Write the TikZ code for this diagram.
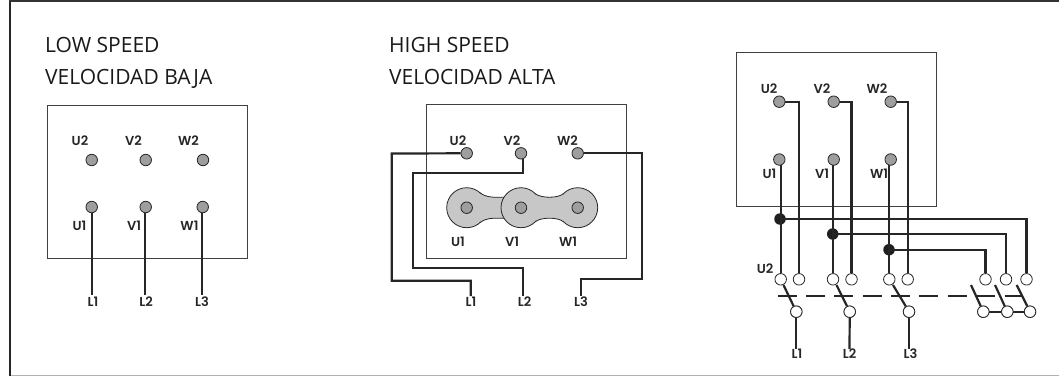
\documentclass[tikz,border=0pt]{standalone}
\usepackage{fontspec}
\setmainfont{Open Sans}
\newfontfamily\lblfont[Scale=1]{Poppins SemiBold}
\tikzset{
  x=1pt,y=-1pt,
  panel/.style={draw=black!75,line width=1pt},
  wire/.style={draw=black!85,line width=2.2pt,line join=miter},
  pin/.style={circle,draw=black!85,fill=black!38,line width=0.8pt,minimum size=11.5pt,inner sep=0pt},
  term/.style={circle,draw=black!85,fill=white,line width=0.8pt,minimum size=11.5pt,inner sep=0pt},
  junction/.style={circle,fill=black!88,minimum size=11.5pt,inner sep=0pt},
  lbl/.style={font=\lblfont\fontsize{13}{15}\selectfont,text=black!85,inner sep=0pt},
  title/.style={font=\fontsize{21}{24}\selectfont,text=black!90,inner sep=0pt,anchor=base west},
  blob/.style={draw=black!85,fill=black!22,line width=0.8pt},
  edgeline/.style={draw=black!85,line width=0.8pt},
}
\begin{document}
\begin{tikzpicture}
\useasboundingbox (0,0) rectangle (1059,376);
% outer frame
\draw[draw=black!85,line width=2.4pt] (10,376) -- (10,1);
\draw[draw=black!80,line width=2pt] (9,1) -- (1059,1);
\draw[draw=black!30,line width=1.2pt] (11,375.4) -- (1059,375.4);
% titles
\node[title] (ta) at (45,52) {LOW SPEED};
\node[title] (tb) at (45,84) {VELOCIDAD BAJA};
\node[title] (tc) at (389,52) {HIGH SPEED};
\node[title] (td) at (389,84) {VELOCIDAD ALTA};
% ---- panel A
\draw[panel] (47.5,105) rectangle (247.5,258);
\node[pin] (au2) at (91.7,160) {};
\node[pin] (av2) at (145.7,160) {};
\node[pin] (aw2) at (203,160) {};
\node[pin] (au1) at (91.7,207) {};
\node[pin] (av1) at (145.7,207) {};
\node[pin] (aw1) at (202.7,207) {};
\node[lbl] at (80,141) {U2};
\node[lbl] at (133.5,141) {V2};
\node[lbl] at (188.5,141) {W2};
\node[lbl] at (79.5,226) {U1};
\node[lbl] at (134,226) {V1};
\node[lbl] at (189.5,226) {W1};
\coordinate (al1) at (91.7,295);
\coordinate (al2) at (145,295);
\coordinate (al3) at (202,295);
\draw[wire] (au1.south) -- (al1);
\draw[wire] (145,212.7) -- (al2);
\draw[wire] (202,212.7) -- (al3);
\node[lbl] (l1a) at (93,302) {L1};
\node[lbl] (l2a) at (146,302) {L2};
\node[lbl] (l3a) at (202,302) {L3};
% ---- panel B
\draw[panel] (426,104.7) rectangle (626,258.3);
\draw[blob] (466.7,207.7) circle (20);
\draw[blob] (577.7,207.7) circle (20);
\fill[black!22] (480,192.8) .. controls (486,197.3) and (492,197.2) .. (497,197.2) -- (508,197.2) -- (508,218.2) -- (497,218.2) .. controls (492,218.2) and (486,218.1) .. (480,222.6) -- cycle;
\draw[edgeline] (480,192.8) .. controls (486,197.3) and (492,197.2) .. (497,197.2) -- (508,197.2);
\draw[edgeline] (480,222.6) .. controls (486,218.1) and (492,218.2) .. (497,218.2) -- (508,218.2);
\draw[blob] (521,207.7) circle (20);
\fill[black!22] (535.3,193.7) .. controls (541,198.4) and (558,198.4) .. (563.4,193.7) -- (563.4,221.7) .. controls (558,217) and (541,217) .. (535.3,221.7) -- cycle;
\draw[edgeline] (535.3,193.7) .. controls (541,198.4) and (558,198.4) .. (563.4,193.7);
\draw[edgeline] (535.3,221.7) .. controls (541,217) and (558,217) .. (563.4,221.7);
\node[pin] (bu2) at (466.7,153.3) {};
\node[pin] (bv2) at (521,153.3) {};
\node[pin] (bw2) at (577.7,153.3) {};
\node[pin] (bu1) at (466.7,207.7) {};
\node[pin] (bv1) at (521,207.7) {};
\node[pin] (bw1) at (577.7,207.7) {};
\node[lbl] at (458,140.5) {U2};
\node[lbl] at (512,140.5) {V2};
\node[lbl] at (567.5,140.5) {W2};
\node[lbl] at (458,241.5) {U1};
\node[lbl] at (512,241.5) {V1};
\node[lbl] at (568,241.5) {W1};
\coordinate (bl1) at (470.7,296);
\coordinate (bl2) at (523.3,296);
\coordinate (bl3) at (580.7,296);
\draw[wire] (bu2.west) -- (391.7,153.5) -- (391.7,280.7) -- (470.7,280.7) -- (bl1);
\draw[wire] (523.3,159) -- (523.3,172.7) -- (413.3,172.7) -- (413.3,268.3) -- (523.3,268.3) -- (bl2);
\draw[wire] (bw2.east) -- (641.7,153.3) -- (641.7,279.3) -- (580.7,279.3) -- (bl3);
\node[lbl] at (471,301.5) {L1};
\node[lbl] at (524.5,301.5) {L2};
\node[lbl] at (581,301.5) {L3};
% ---- panel C
\draw[panel] (736.7,52.7) rectangle (936,206);
\node[pin] (cu2) at (779.3,101.7) {};
\node[pin] (cv2) at (833.7,101.7) {};
\node[pin] (cw2) at (890.7,101.7) {};
\node[pin] (cu1) at (779.3,159.5) {};
\node[pin] (cv1) at (833.7,159.5) {};
\node[pin] (cw1) at (890.7,159.5) {};
\node[lbl] at (769,89) {U2};
\node[lbl] at (822,89) {V2};
\node[lbl] at (877,89) {W2};
\node[lbl] at (769.5,173.5) {U1};
\node[lbl] at (822,173.5) {V1};
\node[lbl] at (879,173.5) {W1};
\node[lbl] at (765,268.5) {U2};
% upper terminals
\node[term] (t1a) at (780.7,279.3) {};
\node[term] (t1b) at (799,279.3) {};
\node[term] (t2a) at (833,279.3) {};
\node[term] (t2b) at (851.5,279.3) {};
\node[term] (t3a) at (889.3,279.3) {};
\node[term] (t3b) at (907.7,279.3) {};
\node[term] (t4a) at (985.5,279.3) {};
\node[term] (t5a) at (1006,279.3) {};
\node[term] (t6a) at (1026.5,279.3) {};
% lower terminals
\node[term] (s1) at (796.3,311.7) {};
\node[term] (s2) at (849.7,311.7) {};
\node[term] (s3) at (909,311.7) {};
\node[term] (s4) at (983.3,311.7) {};
\node[term] (s5) at (1007.3,311.7) {};
\node[term] (s6) at (1030,311.7) {};
% junctions
\node[junction] (j1) at (780,219) {};
\node[junction] (j2) at (832.7,234) {};
\node[junction] (j3) at (889,249.7) {};
% wires
\draw[wire] (cu2.east) -- (799,101.7) -- (t1b.north);
\draw[wire] (cv2.east) -- (851.5,101.7) -- (t2b.north);
\draw[wire] (cw2.east) -- (907.7,101.7) -- (t3b.north);
\draw[wire] (780.7,165) -- (t1a.north);
\draw[wire] (833,165) -- (t2a.north);
\draw[wire] (889.3,165) -- (t3a.north);
\draw[wire] (j1.center) -- (1026.5,219) -- (t6a.north);
\draw[wire] (j2.center) -- (1006,234) -- (t5a.north);
\draw[wire] (j3.center) -- (985.5,249.7) -- (t4a.north);
\draw[wire] (s4) -- (s5);
\draw[wire] (s5) -- (s6);
% blades
\coordinate (b1) at (783.5,285);
\coordinate (b2) at (836.5,285);
\coordinate (b3) at (893,285);
\coordinate (b4) at (971,285);
\coordinate (b5) at (995,285);
\coordinate (b6) at (1016.7,285);
\draw[wire] (b1) -- (s1);
\draw[wire] (b2) -- (s2);
\draw[wire] (b3) -- (s3);
\draw[wire] (b4) -- (s4);
\draw[wire] (b5) -- (s5);
\draw[wire] (b6) -- (s6);
\node[term] at (s1) {};
\node[term] at (s2) {};
\node[term] at (s3) {};
\node[term] at (s4) {};
\node[term] at (s5) {};
\node[term] at (s6) {};
% mechanical link
\coordinate (m1) at (777.7,296);
\coordinate (m2) at (1023.3,296);
\draw[draw=black!85,line width=2.2pt,dash pattern=on 19pt off 9.35pt] (m1) -- (m2);
% outputs
\coordinate (c1) at (796.3,349);
\coordinate (c2) at (849.5,349);
\coordinate (c3) at (909,349);
\draw[wire] (s1.south) -- (c1);
\draw[wire] (s2.south) -- (c2);
\draw[wire] (s3.south) -- (c3);
\node[lbl] at (797,353.5) {L1};
\node[lbl] at (849.5,353.5) {L2};
\node[lbl] at (910.5,353.5) {L3};
\end{tikzpicture}
\end{document}
